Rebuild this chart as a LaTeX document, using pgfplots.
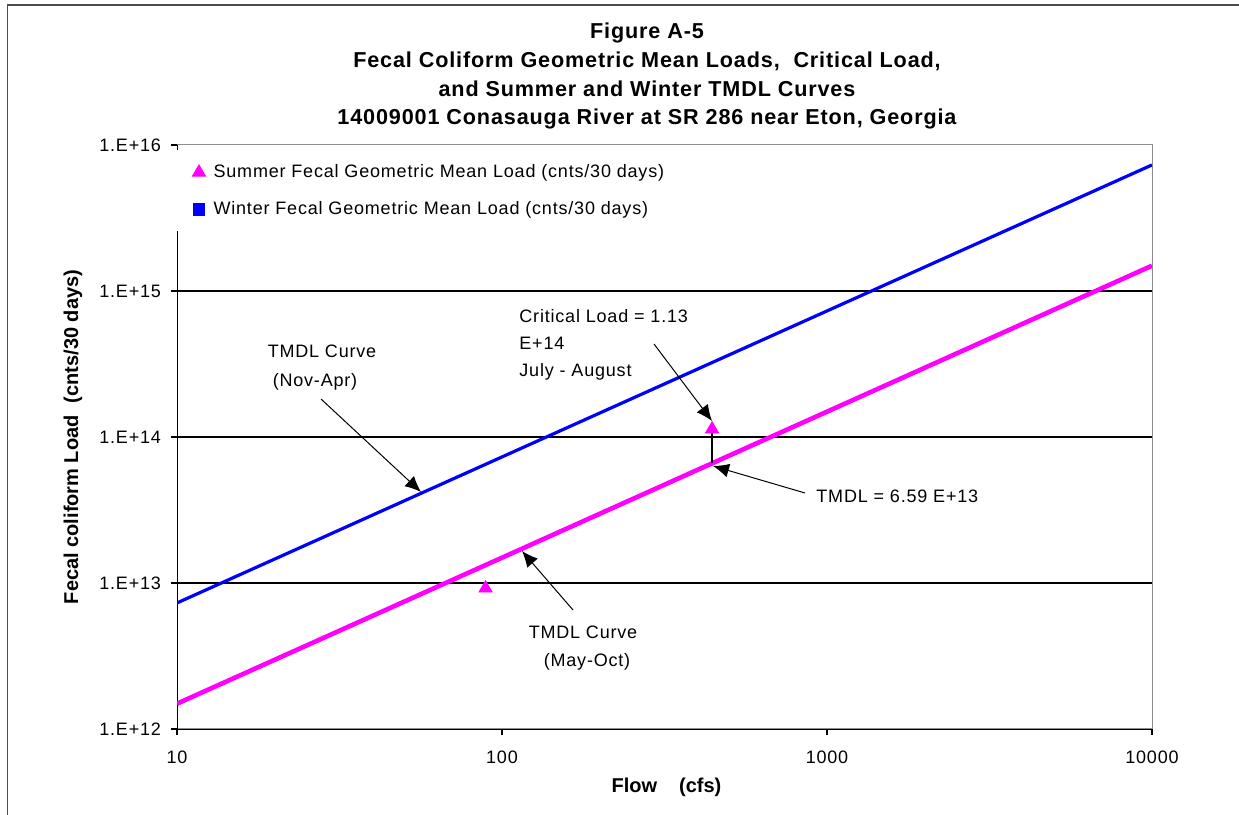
\documentclass[border=0pt]{standalone}
\usepackage{fontspec}
\setmainfont{Liberation Sans}
\newfontfamily\lf[LetterSpace=4.5]{Liberation Sans}
\newfontfamily\tf[LetterSpace=4]{Liberation Sans}
\usepackage{pgfplots}
\pgfplotsset{compat=1.18}
\usetikzlibrary{arrows.meta}

\definecolor{mag}{RGB}{255,0,255}
\definecolor{winterblue}{RGB}{0,0,255}
\newcommand\txt{\lf\fontsize{9}{10.5}\selectfont}
\newcommand\ttl{\tf\bfseries\fontsize{10.8}{13}\selectfont}

\begin{document}
\begin{tikzpicture}
\useasboundingbox (0,0) rectangle (619.5pt,407.5pt);
% page frame
\draw[black!70, line width=0.6pt] (3.8pt,0) -- (3.8pt,405pt) -- (619.5pt,405pt);

\begin{axis}[
  at={(88.5pt,43pt)}, anchor=south west,
  scale only axis, width=487.5pt, height=292pt,
  xmode=log, ymode=log,
  xmin=10, xmax=10000, ymin=1e12, ymax=1e16,
  xtick={10,100,1000,10000}, xticklabels={10,100,1000,10000},
  ytick={1e12,1e13,1e14,1e15}, yticklabels={1.E+12,1.E+13,1.E+14,1.E+15},
  extra y ticks={1e16}, extra y tick labels={1.E+16},
  extra y tick style={grid=none},
  xminorticks=false, yminorticks=false,
  ymajorgrids, grid style={black, line width=0.8pt},
  tick pos=left, tick align=outside, major tick length=3pt,
  tick style={black, line width=0.6pt},
  axis line style={black!45, line width=0.5pt},
  /pgf/number format/assume math mode=true,
  ticklabel style={font=\txt},
  yticklabel style={xshift=-1.5pt},
  xticklabel style={yshift=-4.5pt},
  xlabel={Flow\hspace{1.1em}(cfs)},
  ylabel={Fecal coliform Load\hspace{0.6em}(cnts/30 days)},
  label style={font=\bfseries\fontsize{10}{12}\selectfont},
  xlabel style={at={(axis description cs:0.5,0)}, anchor=center, yshift=-29pt, xshift=1pt},
  ylabel style={at={(axis description cs:0,0.5)}, anchor=center, yshift=52pt},
  legend style={at={(rel axis cs:0,1)}, anchor=north west, xshift=-1pt, yshift=-2.5pt,
    fill=white, draw=none, font=\txt, row sep=6.5pt, inner xsep=8.5pt, inner ysep=5pt,
    nodes={inner xsep=4pt}},
  legend cell align=left,
  legend image code/.code={\draw[#1] plot coordinates {(0pt,0pt)};},
]
% left axis line in black (the legend box sits over its top part)
\draw[black, line width=0.8pt] (rel axis cs:0,0) -- (rel axis cs:0,1);

% winter TMDL curve (Nov-Apr)
\addplot[winterblue, line width=1.6pt, forget plot] coordinates {(10,7.3e12) (10000,7.3e15)};
% summer TMDL curve (May-Oct)
\addplot[mag, line width=2.3pt, forget plot] coordinates {(10,1.49e12) (10000,1.49e15)};
% critical load minus TMDL
\addplot[black, line width=0.6pt, forget plot] coordinates {(443,1.13e14) (443,6.59e13)};

% summer geometric mean loads
\addplot[only marks, mark=triangle*, mark size=3.8pt, mag, mark options={fill=mag, draw=mag}]
  coordinates {(89,9.2e12) (443,1.13e14)};
\addlegendentry{Summer Fecal Geometric Mean Load (cnts/30 days)}
\addlegendimage{only marks, mark=square*, mark size=2.9pt, winterblue}
\addlegendentry{Winter Fecal Geometric Mean Load (cnts/30 days)}
\end{axis}

% title
\begin{scope}[x=0.5pt, y=-0.5pt, shift={(0,407.5pt)}]
\node[font=\ttl, anchor=base] at (647,39) {Figure A-5};
\node[font=\ttl, anchor=base] at (647,68) {Fecal Coliform Geometric Mean Loads,\ \ Critical Load,};
\node[font=\ttl, anchor=base] at (647,97) {and Summer and Winter TMDL Curves};
\node[font=\ttl, anchor=base] at (647,125) {14009001 Conasauga River at SR 286 near Eton, Georgia};

% annotations
\tikzset{ann/.style={font=\txt, inner sep=0pt}, arr/.style={black, line width=0.5pt, -{Latex[length=8pt, width=7pt]}}}
\node[ann, anchor=base] at (322,358) {TMDL Curve};
\node[ann, anchor=base] at (315,387) {(Nov-Apr)};
\draw[arr] (321,399) -- (421,492);

\node[ann, anchor=base west] at (519,323) {Critical Load = 1.13};
\node[ann, anchor=base west] at (519,350) {E+14};
\node[ann, anchor=base west] at (519,377) {July - August};
\draw[arr] (654,344) -- (712,421);

\node[ann, anchor=base west] at (816,503) {TMDL = 6.59 E+13};
\draw[arr] (805,493) -- (713,466);

\node[ann, anchor=base] at (583,639) {TMDL Curve};
\node[ann, anchor=base] at (587,667) {(May-Oct)};
\draw[arr] (573,610) -- (522,551);
\end{scope}
\end{tikzpicture}
\end{document}
